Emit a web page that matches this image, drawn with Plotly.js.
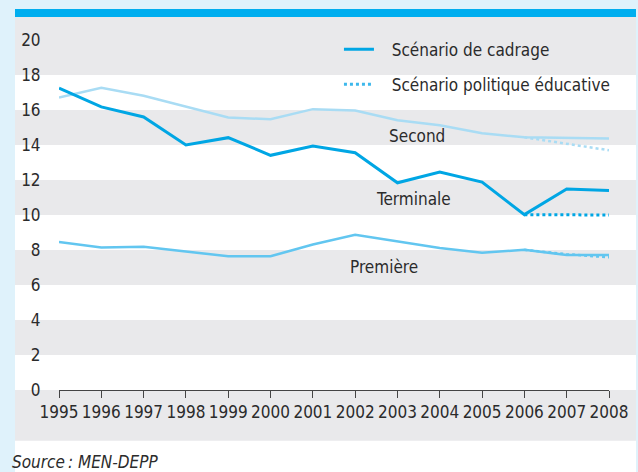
<!DOCTYPE html>
<html>
<head>
<meta charset="utf-8">
<script src="https://cdn.plot.ly/plotly-3.0.1.min.js"></script>
<style>html,body{margin:0;padding:0;background:#dff2fb;}</style>
</head>
<body>
<div id="chart" style="width:638px;height:472px;"></div>
<script>
// ---- Data ----
const years = [1995,1996,1997,1998,1999,2000,2001,2002,2003,2004,2005,2006,2007,2008];
const yearLabels = ['1995','1996','1997','1998','1999','2000','2001','2002','2003','2004','2005','2006','2007','2008'];
const terminale = [17.25,16.18,15.6,14.0,14.42,13.41,13.94,13.56,11.84,12.45,11.88,10.02,11.49,11.4];
const second    = [16.71,17.27,16.81,16.2,15.57,15.47,16.05,15.97,15.42,15.13,14.67,14.44,14.42,14.37];
const premiere  = [8.46,8.15,8.19,7.93,7.64,7.64,8.31,8.87,8.5,8.12,7.85,8.01,7.71,7.71];
const policyYears = [2006,2007,2008];
const terminalePol = [10.02,10.0,10.0];
const secondPol    = [14.44,14.05,13.7];
const premierePol  = [8.01,7.76,7.58];
const yTicks = [0,2,4,6,8,10,12,14,16,18,20];
const seriesLabels = ['Second','Terminale','Première'];
const legendNames = ['Scénario de cadrage','Scénario politique éducative'];

// ---- Style ----
const FONT = '"DejaVu Sans Condensed","DejaVu Sans",sans-serif';
const TXT = '#2b2b2b';
const cDark = '#00a6e4', cLight = '#a9dcf4', cMid = '#62c6f0';
const yRange = [0,20];
const yp = v => (v - yRange[0]) / (yRange[1] - yRange[0]);
const GRAY = '#e9e9eb';
const PAD = '\u00a0\u00a0\u2009';

const traces = [
  {x: policyYears, y: secondPol, mode:'lines', line:{color:cLight, width:2.5, dash:'dot'}, showlegend:false, hoverinfo:'skip'},
  {x: policyYears, y: premierePol, mode:'lines', line:{color:cMid, width:2.5, dash:'dot'}, showlegend:false, hoverinfo:'skip'},
  {x: policyYears, y: terminalePol, mode:'lines', line:{color:cDark, width:3, dash:'dot'}, showlegend:false, hoverinfo:'skip'},
  {x: years, y: second, mode:'lines', line:{color:cLight, width:2.5}, showlegend:false},
  {x: years, y: premiere, mode:'lines', line:{color:cMid, width:2.5}, showlegend:false},
  {x: years, y: terminale, mode:'lines', line:{color:cDark, width:3}, showlegend:false},
  {x: [null], y: [null], mode:'lines', line:{color:cDark, width:3}, name:PAD + legendNames[0], legendgroup:'a'},
  {x: [null], y: [null], mode:'lines', line:{color:'#3db8ec', width:3, dash:'dot'}, name:PAD + legendNames[1], legendgroup:'b'}
];

const shapes = [];
// white panel
shapes.push({type:'rect', xref:'paper', yref:'paper', x0:-0.08, x1:1.0491, y0:-0.3, y1:1.0886, fillcolor:'#ffffff', line:{width:0}, layer:'below'});
// top bar
shapes.push({type:'rect', xref:'paper', yref:'paper', x0:-0.08, x1:1.0491, y0:1.0657, y1:1.0886, fillcolor:'#00aeef', line:{width:0}, layer:'below'});
// gray bands
const bands = [[18, null],[14,16],[10,12],[6,8],[2,4],[null,0]];
bands.forEach(b => {
  const y0 = b[0] === null ? -0.1449 : yp(b[0]);
  const y1 = b[1] === null ? 1.0657 : yp(b[1]);
  shapes.push({type:'rect', xref:'paper', yref:'paper', x0:-0.08, x1:1.0491, y0:y0, y1:y1, fillcolor:GRAY, line:{width:0}, layer:'below'});
});

const annotations = [
  {x:2003.46, y:14.51, text:seriesLabels[0]},
  {x:2003.39, y:10.91, text:seriesLabels[1]},
  {x:2002.68, y:7.03, text:seriesLabels[2]}
].map(a => Object.assign(a, {xref:'x', yref:'y', showarrow:false, font:{family:FONT, size:17, color:TXT}}));
annotations.push({xref:'paper', yref:'paper', x:-0.089, y:-0.207, xanchor:'left', yanchor:'middle', showarrow:false,
  text:'<i>Source\u202f: MEN-DEPP</i>', font:{family:FONT, size:17, color:TXT}});

const layout = {
  width:638, height:472,
  margin:{l:59, r:29, t:40, b:82},
  paper_bgcolor:'#dff2fb', plot_bgcolor:'rgba(0,0,0,0)',
  showlegend:true,
  legend:{x:0.509, y:1.024, xanchor:'left', yanchor:'top', bgcolor:'rgba(0,0,0,0)', traceorder:'grouped', tracegroupgap:10,
    font:{family:FONT, size:17, color:TXT}},
  xaxis:{range:[1995,2008], tickvals:years, ticktext:yearLabels, tickangle:0, ticks:'outside', ticklen:7, tickcolor:'#444', tickwidth:1,
    showline:true, linecolor:'#444', linewidth:1, showgrid:false, zeroline:false, automargin:false,
    tickfont:{family:FONT, size:17, color:TXT}, fixedrange:true},
  yaxis:{range:yRange, tickvals:yTicks, ticktext:yTicks.map(String), ticks:'outside', ticklen:14, tickcolor:'rgba(0,0,0,0)',
    showline:false, showgrid:false, zeroline:false, automargin:false, tickfont:{family:FONT, size:17, color:TXT}, fixedrange:true},
  shapes:shapes,
  annotations:annotations
};

Plotly.newPlot('chart', traces, layout, {displayModeBar:false, staticPlot:true});
</script>
</body>
</html>
